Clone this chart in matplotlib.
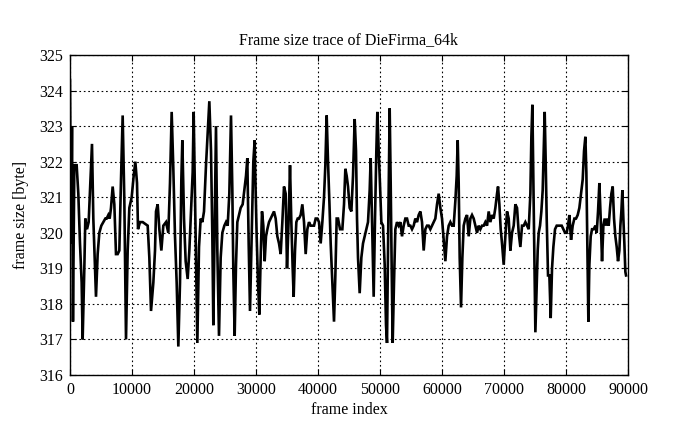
import matplotlib
matplotlib.use("Agg")
import matplotlib.pyplot as plt

# frame size trace
frames = [
    0, 160, 320, 480, 700, 1075, 1344, 1613, 1882, 2043, 2312, 2473, 2742, 3011, 3280, 3549,
    3764, 3979, 4194, 4463, 4732, 5055, 5377, 5700, 5915, 6184, 6399, 6614, 6883, 7152, 7421,
    7690, 7959, 8228, 8497, 8766, 9035, 9304, 9573, 9949, 10272, 10541, 10810, 10971, 11294,
    11724, 12530, 12799, 13068, 13444, 13713, 13874, 14143, 14412, 14735,
    15055, 15485, 15860, 16130, 16400, 16668, 16937, 17206, 17475, 17745, 17960, 18120, 18389,
    18658, 18980, 19250, 19518, 19787, 19947, 20162, 20324, 20540, 20808, 21077, 21346, 21615,
    21937, 22206, 22475, 22745, 22960, 23120, 23335, 23550, 23765, 24034, 24303, 24572, 24895,
    25163, 25432, 25700, 25970, 26185, 26346, 26561, 26776, 26990, 27260, 27530, 27850, 28120,
    28390, 28600, 28820, 29035, 29300, 29570, 29786,
    29840, 30110, 30324, 30539, 30754, 30970, 31184, 31400, 31615, 31830, 32100, 32368, 32636,
    32905, 33174, 33443, 33712, 33980, 34250, 34518, 34787, 35002, 35271, 35486, 35701, 35916,
    36077, 36293, 36508, 36723, 36938, 37207, 37476, 37745, 38013, 38282, 38551, 38820, 39089,
    39358, 39626, 39895, 40164, 40433, 40702, 40970, 41185, 41400, 41616, 41831, 42046, 42315,
    42584, 42800, 43014, 43230, 43552, 43928, 44197, 44412, 44627, 44842,
    45110, 45379, 45648, 45916, 46131, 46293, 46454, 46723, 46992, 47260, 47530, 47798, 48067,
    48336, 48497, 48712, 48981, 49196, 49411, 49573, 49788, 49949, 50218, 50487, 50756, 50971,
    51132, 51347, 51562, 51724, 51885, 52046, 52261, 52476, 52745, 53014, 53283, 53552, 53820,
    54089, 54358, 54627, 54896, 55165, 55434, 55702, 55971, 56240, 56509, 56778, 57047, 57316,
    57584, 57853, 58122, 58391, 58660, 58929, 59198, 59466, 59735, 60004,
    60273, 60542, 60810, 61080, 61348, 61617, 61886, 62155, 62370, 62531, 62692, 62854, 63069,
    63284, 63499, 63768, 64036, 64305, 64574, 64843, 65112, 65381, 65650, 65918, 66187, 66456,
    66725, 66994, 67263, 67532, 67800, 68070, 68338, 68607, 68876, 69037, 69252, 69467, 69682,
    69951, 70220, 70489, 70758, 71027, 71296, 71565, 71833, 72102, 72371, 72640, 72909, 73178,
    73447, 73716, 73985, 74254, 74415, 74576, 74737, 74898, 75060,
    75435, 75596, 75811, 76026, 76241, 76403, 76564, 76725, 76887, 77102, 77317, 77532, 77747,
    77962, 78231, 78500, 78768, 79037, 79306, 79575, 79844, 80113, 80328, 80543, 80812, 81081,
    81350, 81618, 81887, 82156, 82425, 82694, 82909, 83124, 83285, 83447, 83608, 83769, 83984,
    84199, 84468, 84737, 84952, 85167, 85382, 85597, 85812, 86027, 86242, 86457, 86672, 86887,
    87102, 87317, 87532, 87747, 87962, 88177, 88392, 88607, 88769, 88930, 89091, 89253, 89414,
    89575, 89683,
]

sizes = [
    324.3, 319.7, 323.0, 317.5, 321.9, 321.9, 321.1, 319.7, 318.6, 317.0, 319.0, 320.4, 320.1,
    320.3, 321.4, 322.5, 320.4, 319.3, 318.2, 319.4, 320.0, 320.2, 320.3, 320.4, 320.4, 320.5,
    320.4, 320.7, 321.3, 320.8, 319.4, 319.4, 319.5, 321.5, 323.3, 320.9, 317.0, 319.5, 320.7,
    321.0, 321.6, 322.0, 321.4, 320.1, 320.3, 320.3, 320.2, 319.3, 317.8, 318.6, 319.5, 320.6,
    320.8, 320.1, 319.5,
    320.2, 320.3, 320.0, 321.4, 323.4, 321.8, 319.9, 318.6, 316.8, 318.6, 321.5, 322.6, 320.4,
    319.2, 318.7, 319.5, 320.6, 321.7, 323.4, 321.0, 319.1, 316.9, 319.6, 320.4, 320.3, 320.6,
    321.9, 322.8, 323.7, 322.3, 319.9, 317.4, 320.2, 323.0, 319.5, 317.1, 319.3, 320.0, 320.2,
    320.3, 320.2, 321.1, 323.3, 321.2, 318.9, 317.1, 319.1, 320.3, 320.5, 320.7, 320.8, 321.2,
    321.6, 322.1, 319.7, 317.8, 319.9, 322.0, 322.6,
    322.0, 319.9, 318.6, 317.7, 319.3, 320.6, 320.2, 319.2, 319.9, 320.1, 320.3, 320.4, 320.5,
    320.6, 320.4, 319.9, 319.7, 319.4, 320.3, 321.3, 321.1, 319.0, 320.4, 321.9, 320.3, 319.0,
    318.2, 319.5, 320.3, 320.4, 320.4, 320.5, 320.8, 320.3, 319.4, 320.1, 320.3, 320.2, 320.2,
    320.2, 320.4, 320.4, 320.3, 319.7, 320.3, 321.0, 321.9, 323.3, 322.0, 320.9, 319.7, 318.6,
    317.5, 318.8, 320.4, 320.4, 320.1, 320.1, 320.8, 321.8, 321.6, 321.3,
    320.7, 320.6, 321.6, 323.2, 322.3, 320.4, 319.3, 318.3, 319.3, 319.7, 319.9, 320.1, 320.3,
    321.2, 322.1, 320.4, 318.2, 320.4, 322.3, 323.4, 322.3, 321.6, 320.3, 320.2, 319.1, 317.4,
    316.9, 320.4, 323.5, 321.4, 319.0, 316.9, 318.6, 320.1, 320.3, 320.2, 320.3, 319.9, 320.2,
    320.4, 320.4, 320.2, 320.2, 320.1, 320.2, 320.4, 320.3, 320.5, 320.6, 320.3, 319.5, 320.1,
    320.2, 320.2, 320.1, 320.2, 320.3, 320.4, 320.8, 321.1, 320.7, 320.4,
    319.8, 319.2, 319.9, 320.2, 320.3, 320.2, 320.2, 320.9, 321.6, 322.6, 321.4, 319.3, 317.9,
    319.3, 320.2, 320.4, 320.5, 319.9, 320.4, 320.5, 320.4, 320.2, 320.0, 320.2, 320.1, 320.2,
    320.2, 320.3, 320.2, 320.6, 320.3, 320.5, 320.4, 320.7, 321.1, 321.3, 320.8, 320.1, 319.7,
    319.1, 319.9, 320.6, 320.4, 319.5, 320.0, 320.2, 320.8, 320.7, 320.0, 319.6, 320.2, 320.2,
    320.3, 320.2, 320.1, 321.1, 322.7, 323.6, 321.4, 319.0, 317.2,
    319.5, 320.0, 320.2, 320.6, 321.2, 322.3, 323.4, 322.0, 320.4, 318.8, 318.8, 317.6, 319.0,
    319.6, 320.1, 320.2, 320.2, 320.2, 320.2, 320.1, 320.0, 320.0, 320.2, 320.5, 319.8, 320.2,
    320.4, 320.4, 320.5, 320.7, 321.1, 321.5, 322.3, 322.7, 321.7, 319.5, 317.5, 319.1, 319.9,
    320.1, 320.1, 320.2, 320.0, 320.6, 321.4, 320.4, 319.2, 320.2, 320.4, 320.2, 320.4, 320.2,
    320.7, 321.1, 321.3, 320.4, 319.9, 319.6, 319.2, 319.5, 320.2, 320.6, 321.2, 320.4, 319.7,
    318.9, 318.8,
]

x_ticks = [0, 10000, 20000, 30000, 40000, 50000, 60000, 70000, 80000, 90000]
y_ticks = [316, 317, 318, 319, 320, 321, 322, 323, 324, 325]

plt.rcParams["font.family"] = ["Liberation Serif", "DejaVu Serif"]

fig = plt.figure(figsize=(6.95, 4.29), dpi=100)
ax = fig.add_axes([0.1007, 0.1259, 0.8029, 0.7459])

ax.plot(frames, sizes, color="black", lw=1.9, solid_joinstyle="miter")

ax.set_xlim(0, 90000)
ax.set_ylim(316, 325)
ax.set_xticks(x_ticks)
ax.set_yticks(y_ticks)
ax.tick_params(direction="in", top=True, right=True, length=4, width=0.8,
               labelsize=11.5, pad=5)
ax.grid(True, color="black", linestyle=(0, (1.5, 2.5)), lw=0.8)
for s in ax.spines.values():
    s.set_linewidth(1.0)

ax.set_title("Frame size trace of DieFirma_64k", fontsize=11.5, pad=8)
ax.set_xlabel("frame index", fontsize=11.5, labelpad=3)
ax.set_ylabel("frame size [byte]", fontsize=11.5, labelpad=7)

fig.savefig("out.png", dpi=100)
